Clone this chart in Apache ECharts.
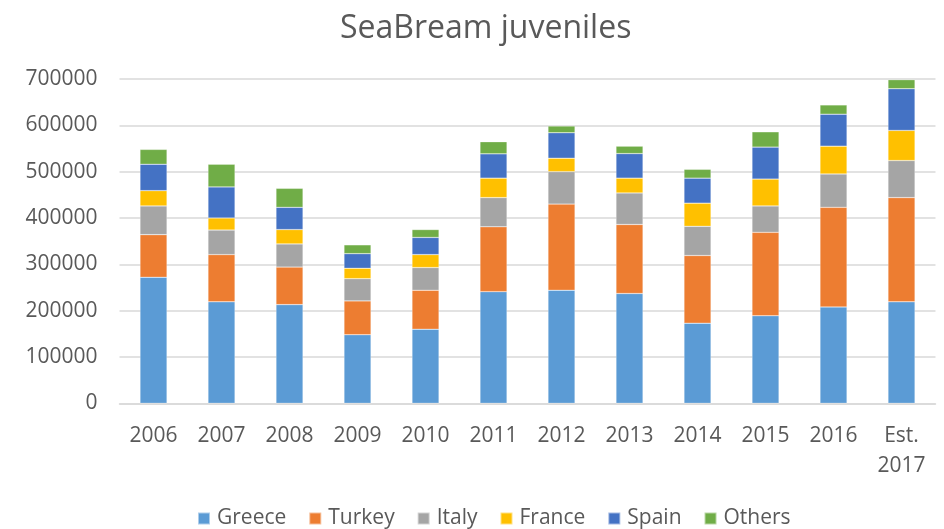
<!DOCTYPE html>
<html>
<head>
<meta charset="utf-8">
<script src="https://cdn.jsdelivr.net/npm/echarts@6/dist/echarts.min.js"></script>
<style>
  html, body { margin: 0; padding: 0; background: #fff; }
  #chart { width: 944px; height: 529px; }
</style>
</head>
<body>
<div id="chart"></div>
<script>
const years = ['2006', '2007', '2008', '2009', '2010', '2011', '2012', '2013', '2014', '2015', '2016', 'Est.\n2017'];
const greece = [272000, 219000, 213000, 148000, 160000, 241000, 244000, 237000, 173000, 189000, 208000, 219000];
const turkey = [92000, 102000, 81000, 73000, 84000, 140000, 186000, 149000, 146000, 180000, 215000, 225000];
const italy = [62000, 53000, 50000, 48000, 49000, 63000, 70000, 68000, 63000, 57000, 72000, 80000];
const france = [33000, 26000, 31000, 22500, 28000, 42000, 29000, 32000, 50000, 58000, 60000, 65000];
const spain = [57000, 67000, 48000, 31500, 37000, 52500, 55000, 53000, 54000, 69000, 69000, 90000];
const others = [32000, 49000, 41000, 19000, 17000, 26000, 14500, 16000, 19000, 33000, 20000, 19500];
const yTicks = [0, 100000, 200000, 300000, 400000, 500000, 600000, 700000];

const font = '"Open Sans", sans-serif';
const textColor = '#595959';

function bar (name, data, color) {
  return {
    name: name,
    type: 'bar',
    stack: 'total',
    data: data,
    barWidth: 27,
    itemStyle: { color: color, borderColor: 'rgba(255,255,255,0.5)', borderWidth: 0.5 }
  };
}

const chart = echarts.init(document.getElementById('chart'));
chart.setOption({
  animation: false,
  title: {
    text: 'SeaBream juveniles',
    left: 340,
    top: 8,
    padding: 0,
    textStyle: { fontFamily: font, fontWeight: 'normal', fontSize: 32, lineHeight: 42, color: textColor }
  },
  legend: {
    left: 197,
    top: 508,
    padding: 0,
    icon: 'rect',
    itemWidth: 12,
    itemHeight: 12,
    itemGap: 22,
    textStyle: { fontFamily: font, fontSize: 21, color: textColor, padding: [0, 0, 0, 2] }
  },
  grid: {
    left: 119.5,
    right: 8.5,
    top: 79,
    bottom: 125.7,
    containLabel: false
  },
  xAxis: {
    type: 'category',
    data: years,
    axisLine: { lineStyle: { color: '#d9d9d9', width: 1.5 } },
    axisTick: { show: false },
    axisLabel: {
      fontFamily: font,
      fontSize: 21,
      color: textColor,
      margin: 18,
      lineHeight: 30,
      interval: 0
    }
  },
  yAxis: {
    type: 'value',
    min: yTicks[0],
    max: yTicks[yTicks.length - 1],
    interval: 100000,
    axisLine: { show: false },
    axisTick: { show: false },
    axisLabel: {
      fontFamily: font,
      fontSize: 21,
      color: textColor,
      margin: 22,
      formatter: function (v) { return String(v); }
    },
    splitLine: { lineStyle: { color: '#d9d9d9', width: 1.5 } }
  },
  series: [
    bar('Greece', greece, '#5B9BD5'),
    bar('Turkey', turkey, '#ED7D31'),
    bar('Italy', italy, '#A5A5A5'),
    bar('France', france, '#FFC000'),
    bar('Spain', spain, '#4472C4'),
    bar('Others', others, '#70AD47')
  ]
});
</script>
</body>
</html>
